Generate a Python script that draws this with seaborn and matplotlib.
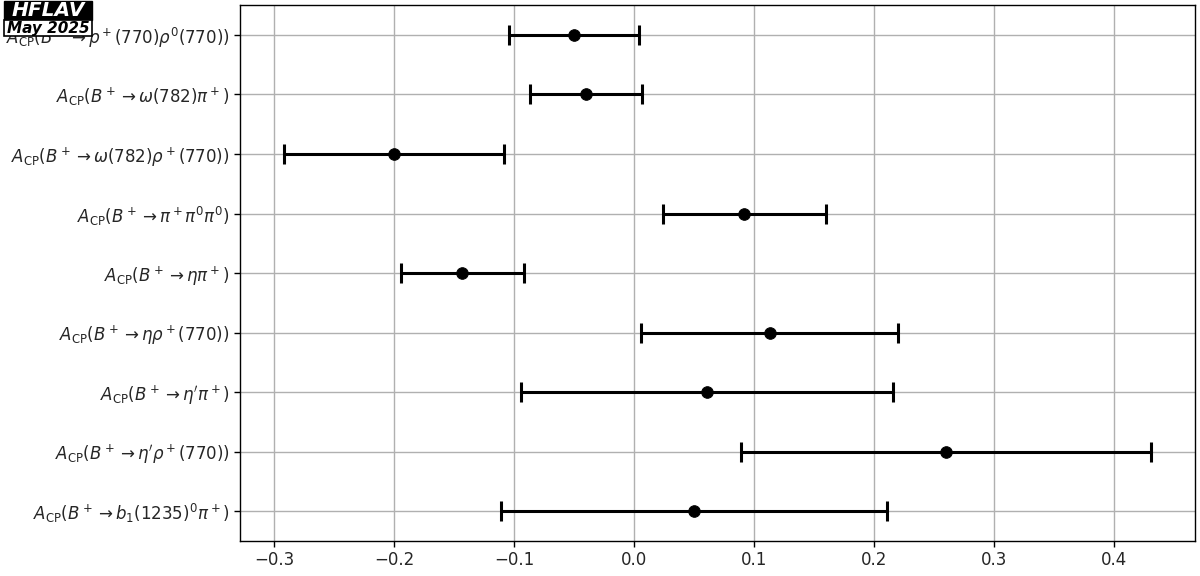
import matplotlib
matplotlib.use("Agg")
import matplotlib.pyplot as plt
from matplotlib.patches import Rectangle
import seaborn as sns
import pandas as pd

labels = [
    r"$A_{\mathrm{CP}}(B^+ \to \rho^+(770)\rho^0(770))$",
    r"$A_{\mathrm{CP}}(B^+ \to \omega(782)\pi^+)$",
    r"$A_{\mathrm{CP}}(B^+ \to \omega(782)\rho^+(770))$",
    r"$A_{\mathrm{CP}}(B^+ \to \pi^+\pi^0\pi^0)$",
    r"$A_{\mathrm{CP}}(B^+ \to \eta\pi^+)$",
    r"$A_{\mathrm{CP}}(B^+ \to \eta\rho^+(770))$",
    r"$A_{\mathrm{CP}}(B^+ \to \eta'\pi^+)$",
    r"$A_{\mathrm{CP}}(B^+ \to \eta'\rho^+(770))$",
    r"$A_{\mathrm{CP}}(B^+ \to b_1(1235)^0\pi^+)$",
]
values = [-0.05, -0.04, -0.20, 0.092, -0.143, 0.113, 0.061, 0.26, 0.05]
errors = [0.054, 0.047, 0.092, 0.068, 0.051, 0.107, 0.155, 0.171, 0.161]

df = pd.DataFrame({"label": labels, "value": values, "error": errors})

sns.set_style("ticks")
plt.rcParams["font.family"] = ["DejaVu Sans"]
plt.rcParams["mathtext.fontset"] = "dejavusans"

W, H = 1200, 576
fig = plt.figure(figsize=(W / 100, H / 100), dpi=100)
ax = fig.add_axes([0.2, 0.061, 0.796, 0.930])

ax.errorbar(df["value"], df["label"], xerr=df["error"], fmt="none",
            ecolor="black", elinewidth=2.2, capsize=7, capthick=2.2, zorder=3)
sns.scatterplot(data=df, x="value", y="label", ax=ax, color="black",
                s=70, edgecolor="black", zorder=4, legend=False)

ax.set_xlim(-0.3283, 0.4675)
ax.set_ylim(len(labels) - 0.5, -0.5)
ax.grid(True, color="#b0b0b0", linewidth=1.0, zorder=0)
ax.set_axisbelow(True)
ax.set_xlabel("")
ax.set_ylabel("")
ax.tick_params(axis="both", labelsize=12, length=4, width=1, color="black")
for s in ax.spines.values():
    s.set_visible(True)
    s.set_color("black")
    s.set_linewidth(1.0)

# HFLAV logo (pixel-based boxes in figure coordinates)
def px(x, y):
    return x / W, 1 - y / H

x0, y0 = px(4, 20)
fig.add_artist(Rectangle((x0, y0), 88 / W, 19 / H, transform=fig.transFigure,
                         facecolor="black", edgecolor="black", lw=1, zorder=10))
x1, y1 = px(4, 36)
fig.add_artist(Rectangle((x1, y1), 88 / W, 16 / H, transform=fig.transFigure,
                         facecolor="white", edgecolor="black", lw=1.2, zorder=10))
tx, ty = px(48, 11)
fig.text(tx, ty, "HFLAV", ha="center", va="center", fontsize=14.5,
         fontweight="bold", fontstyle="italic", color="white", zorder=11)
tx, ty = px(48, 28.5)
fig.text(tx, ty, "May 2025", ha="center", va="center", fontsize=11,
         fontweight="bold", fontstyle="italic", color="black", zorder=11)

fig.savefig("out.png", dpi=100)
